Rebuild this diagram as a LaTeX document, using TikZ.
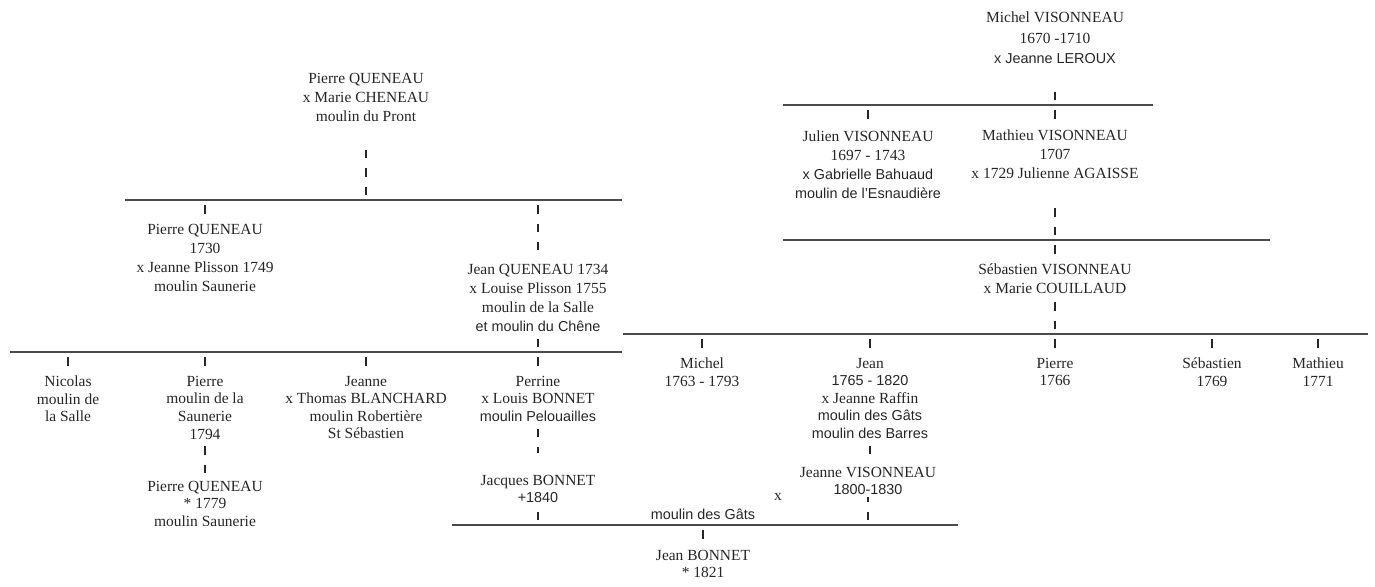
\documentclass[tikz,border=0pt]{standalone}
\usepackage{fontspec}
\setmainfont{Liberation Serif}
\setsansfont{Liberation Sans}
\usepackage{tikz}
\usetikzlibrary{positioning,calc}

\definecolor{ink}{HTML}{262626}
\definecolor{rulegray}{HTML}{4A4A4A}
\newcommand{\sn}[1]{{\sffamily\fontsize{8.2}{10}\selectfont #1}}

\begin{document}
\begin{tikzpicture}[
  x=0.02cm, y=-0.02cm,
  person/.style={align=center, inner sep=1pt, text=ink, anchor=north,
    font=\fontsize{8.8}{10.8}\selectfont},
  kid/.style={person, font=\fontsize{8.8}{10}\selectfont},
  bar/.style={rulegray, line width=0.7pt},
  ticks/.style={ink, line width=0.9pt, dash pattern=on 0.17cm off 0.2cm, dash phase=0.27cm}
]
  \useasboundingbox (0,0) rectangle (1375,586);

  % QUENEAU side
  \node[person] (pqA)    at (366,71)  {Pierre QUENEAU\\x Marie CHENEAU\\moulin du Pront};
  \node[person] (pqB)    at (205,222) {Pierre QUENEAU\\1730\\x Jeanne Plisson 1749\\moulin Saunerie};
  \node[person] (jq)     at (538,262) {Jean QUENEAU 1734\\x Louise Plisson 1755\\moulin de la Salle\\\sn{et moulin du Chêne}};
  \node[kid] (nicolas)   at (68,374)  {Nicolas\\moulin de\\la Salle};
  \node[kid] (pierreQ)   at (205,374) {Pierre\\moulin de la\\Saunerie\\1794};
  \node[kid] (jeanne)    at (366,374) {Jeanne\\x Thomas BLANCHARD\\moulin Robertière\\St Sébastien};
  \node[kid] (perrine)   at (538,374) {Perrine\\x Louis BONNET\\\sn{moulin Pelouailles}};
  \node[kid] (pqC)       at (205,479) {Pierre QUENEAU\\* 1779\\moulin Saunerie};
  \node[kid] (jacques)   at (538,473) {Jacques BONNET\\\sn{+1840}};

  % VISONNEAU side
  \node[person, font=\fontsize{8.8}{11.6}\selectfont] (mvis) at (1055,10) {Michel VISONNEAU\\1670 -1710\\\sn{x Jeanne LEROUX}};
  \node[person] (jvis)   at (868,129)  {Julien VISONNEAU\\1697 - 1743\\\sn{x Gabrielle Bahuaud}\\\sn{moulin de l'Esnaudière}};
  \node[person] (mtvis)  at (1055,128) {Mathieu VISONNEAU\\1707\\x 1729 Julienne AGAISSE};
  \node[person] (svis)   at (1055,262) {Sébastien VISONNEAU\\x Marie COUILLAUD};
  \node[kid] (michel)    at (702,356)  {Michel\\1763 - 1793};
  \node[kid] (jean)      at (870,356)  {Jean\\\sn{1765 - 1820}\\x Jeanne Raffin\\\sn{moulin des Gâts}\\\sn{moulin des Barres}};
  \node[kid] (pierreV)   at (1055,356) {Pierre\\1766};
  \node[kid] (sebV)      at (1212,356) {Sébastien\\1769};
  \node[kid] (mathV)     at (1318,356) {Mathieu\\1771};
  \node[kid] (jeanneV)   at (868,465)  {Jeanne VISONNEAU\\\sn{1800-1830}};
  \node[text=ink, font=\fontsize{8.8}{10}\selectfont] (xmark) at (778,497) {x};
  \node[text=ink, font=\sffamily\fontsize{8.2}{10}\selectfont] (gats) at (703,514) {moulin des Gâts};
  \node[kid] (jbonnet)   at (703,548)  {Jean BONNET\\* 1821};

  % bars
  \coordinate (barAw) at (125,200);  \coordinate (barAe) at (622,200);
  \coordinate (barFw) at (10,352);   \coordinate (barFe) at (622,352);
  \coordinate (barBw) at (783,105);  \coordinate (barBe) at (1153,105);
  \coordinate (barCw) at (783,240);  \coordinate (barCe) at (1270,240);
  \coordinate (barDw) at (623,334);  \coordinate (barDe) at (1368,334);
  \coordinate (barEw) at (452,525);  \coordinate (barEe) at (958,525);
  \foreach \b in {A,F,B,C,D,E}
    \draw[bar] (bar\b w) -- (bar\b e);

  % tick stacks
  \draw[ticks, shorten >=0.4cm] (pqA.south |- barAw) -- (pqA.south);
  \draw[ticks] (pqB.north |- barAw) -- (pqB.north);
  \draw[ticks, shorten >=0.1cm] (jq.north |- barAw) -- (jq.north);
  \draw[ticks] (jq.south |- barFw) -- (jq.south);
  \foreach \k in {nicolas,pierreQ,jeanne,perrine}
    \draw[ticks] (\k.north |- barFw) -- (\k.north);
  \draw[ticks] (pierreQ.south) -- (pierreQ.south |- pqC.north);
  \draw[ticks, shorten >=0.4cm] (perrine.south) -- (perrine.south |- jacques.north);
  \draw[ticks] (jacques.south |- barEw) -- (jacques.south);

  \draw[ticks, shorten >=0.35cm] (mvis.south |- barBw) -- (mvis.south);
  \draw[ticks, shorten >=0.1cm] (jvis.north |- barBw) -- (jvis.north);
  \draw[ticks, shorten >=0.1cm] (mtvis.north |- barBw) -- (mtvis.north);
  \draw[ticks, shorten >=0.4cm] (mtvis.south |- barCw) -- (mtvis.south);
  \draw[ticks] (svis.north |- barCw) -- (svis.north);
  \draw[ticks] (svis.south |- barDw) -- (svis.south);
  \foreach \k in {michel,jean,pierreV,sebV,mathV}
    \draw[ticks] (\k.north |- barDw) -- (\k.north);
  \draw[ticks, shorten >=0.1cm] (jean.south) -- (jean.south |- jeanneV.north);
  \draw[ticks] (jeanneV.south |- barEw) -- (jeanneV.south);
  \draw[ticks] (jbonnet.north |- barEw) -- (jbonnet.north);
\end{tikzpicture}
\end{document}
